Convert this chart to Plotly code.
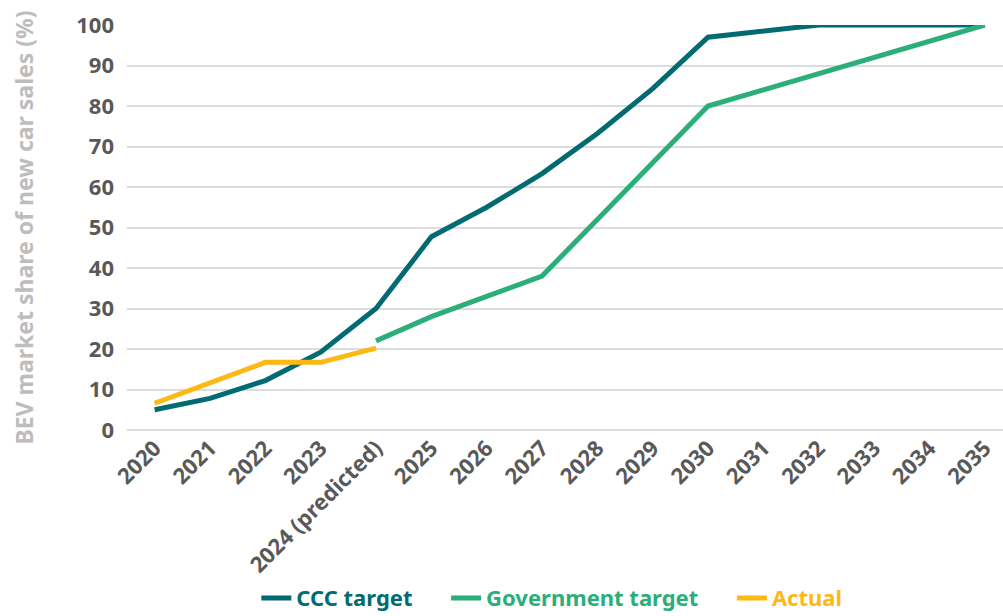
import plotly.graph_objects as go

years = ["2020", "2021", "2022", "2023", "2024 (predicted)", "2025", "2026", "2027",
         "2028", "2029", "2030", "2031", "2032", "2033", "2034", "2035"]

ccc_target = [5, 7.8, 12.2, 19.2, 30, 47.7, 55, 63.3, 73.2, 84.3, 97, 98.5, 100, 100, 100, 100]
gov_years = years[4:]
gov_target = [22, 28, 33, 38, 52, 66, 80, 84, 88, 92, 96, 100]
actual_years = years[:5]
actual = [6.6, 11.7, 16.7, 16.7, 20.2]

C_CCC = "#016B71"
C_GOV = "#2BAE7A"
C_ACT = "#FDB813"

FONT = "Noto Sans"
GAP = "&nbsp;" * 5


def legend_name(text, color, trailing=""):
    return f'<span style="color:{color}">{text}</span>{trailing}'


fig = go.Figure()
fig.add_trace(go.Scatter(x=years, y=ccc_target, mode="lines",
                         name=legend_name("CCC target", C_CCC, GAP),
                         line=dict(color=C_CCC, width=5), cliponaxis=False))
fig.add_trace(go.Scatter(x=gov_years, y=gov_target, mode="lines",
                         name=legend_name("Government target", C_GOV, GAP),
                         line=dict(color=C_GOV, width=5), cliponaxis=False))
fig.add_trace(go.Scatter(x=actual_years, y=actual, mode="lines",
                         name=legend_name("Actual", C_ACT),
                         line=dict(color=C_ACT, width=5), cliponaxis=False))

fig.update_layout(
    width=1003, height=616,
    margin=dict(l=127, r=0, t=25, b=186, autoexpand=False),
    paper_bgcolor="white", plot_bgcolor="white",
    font=dict(family=FONT, size=20, color="#595959"),
    showlegend=True,
    legend=dict(orientation="h", x=0.485, xanchor="center", y=-0.415, yanchor="middle",
                font=dict(family=FONT, size=22, weight="bold"),
                itemwidth=30, tracegroupgap=0, bgcolor="rgba(0,0,0,0)"),
    xaxis=dict(type="category", range=[-0.5, 15.33], tickangle=-45,
               showgrid=False, showline=False, ticks="", automargin=False,
               tickfont=dict(family=FONT, size=22, color="#595959", weight="bold")),
    yaxis=dict(range=[0, 100], dtick=10, showgrid=True, gridcolor="#DCDCDC", gridwidth=1.5,
               zeroline=True, zerolinecolor="#DCDCDC", zerolinewidth=1.5,
               ticks="", ticklabelstandoff=12, automargin=False,
               tickfont=dict(family=FONT, size=22, color="#595959", weight="bold"),
               title=dict(text="BEV market share of new car sales (%)", standoff=36,
                          font=dict(family=FONT, size=23, color="#BDBDBD", weight="bold"))),
)

fig.write_html("out.html")
